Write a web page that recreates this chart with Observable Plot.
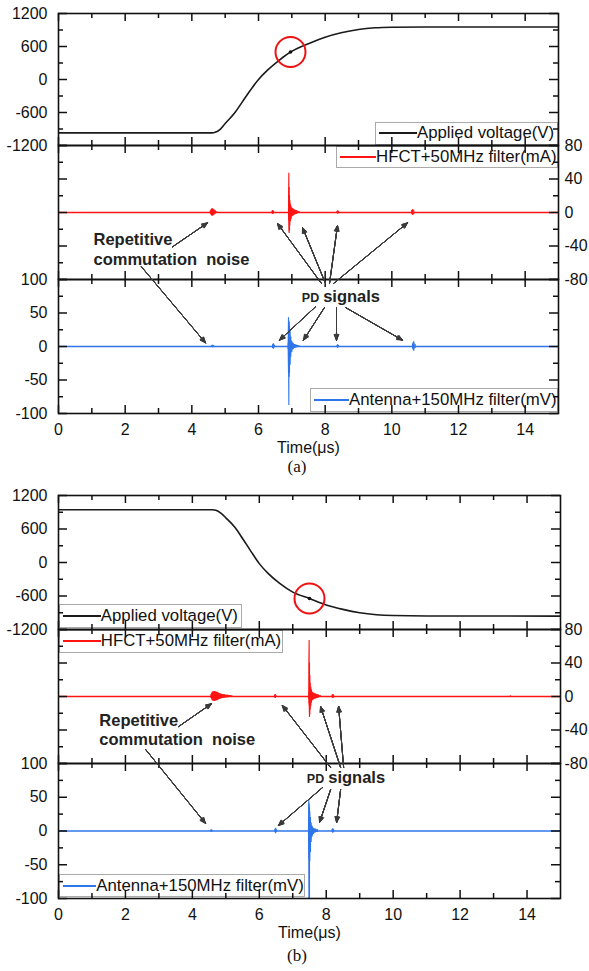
<!DOCTYPE html>
<html><head><meta charset="utf-8">
<script src="https://cdn.jsdelivr.net/npm/d3@7"></script>
<script src="https://cdn.jsdelivr.net/npm/@observablehq/plot@0.6"></script>
<style>
body{margin:0;background:#fff;}
#fig{position:relative;width:589px;height:971px;overflow:hidden;background:#fff;font-family:"Liberation Sans",Arial,sans-serif;color:#111;}
.legend{position:absolute;box-sizing:border-box;background:#fff;border:1px solid #aaa;font-size:16.8px;white-space:nowrap;display:flex;align-items:center;padding-left:3px;}
.legend .sw{display:inline-block;height:2px;}
.cap{position:absolute;font-family:"Liberation Serif","Times New Roman",serif;font-size:17px;transform:translate(-50%,-50%);}
</style></head><body><div id="fig"></div>
<script>
// ---------------- data ----------------
const xMajor = [0, 2, 4, 6, 8, 10, 12, 14];
const xMinor = [1, 3, 5, 7, 9, 11, 13];
const voltMajor = [-1200, -600, 0, 600, 1200];
const voltMinor = [-900, -300, 300, 900];
const hfctMajor = [-80, -40, 0, 40, 80];
const hfctMinor = [-60, -20, 20, 60];
const antMajor = [-100, -50, 0, 50, 100];
const antMinor = [-75, -25, 25, 75];

// (a) applied voltage, rising edge (t µs, V)
const voltA_t = [0, 4.6, 4.7, 4.85, 5.0, 5.27, 5.5, 5.75, 6.0, 6.27, 6.6, 6.96, 7.57, 8.0, 8.48, 9.0, 9.5, 10.0, 11, 15];
const voltA_v = [-970, -970, -960, -905, -800, -620, -420, -200, 0, 170, 340, 500, 670, 770, 850, 910, 940, 950, 955, 955];
// (b) applied voltage, falling edge
const voltB_t = [0, 4.6, 4.7, 4.85, 5.0, 5.27, 5.5, 5.75, 6.0, 6.27, 6.6, 7.0, 7.5, 8.0, 8.5, 9.0, 9.5, 10.0, 11, 15];
const voltB_v = [945, 945, 935, 885, 800, 630, 430, 200, -20, -200, -370, -530, -645, -760, -840, -900, -935, -950, -958, -960];

// PD markers (red circles) on the voltage trace
const circleA = [[6.96, 500]];
const circleB = [[7.5, -645]];

// zero baseline of the pulse traces
const baseline = [[0, 0], [15, 0]];

// bursts: [t µs, upper envelope, lower envelope]
const hfctA = [
  [4.55, 1, -1], [4.58, 3, -3], [4.61, 4.5, -4.5], [4.64, 4, -4], [4.67, 3, -3], [4.70, 2, -2], [4.75, 1, -1],
  [6.41, 1.5, -1.5], [6.43, 2.5, -2.5], [6.45, 1.5, -1.5],
  [6.90, 6, -3], [6.91, 47, -10], [6.92, 30, -25], [6.93, 20, -22], [6.94, 14, -16], [6.96, 10, -11], [6.98, 7, -8],
  [7.01, 5, -5], [7.05, 4, -4], [7.09, 3, -3], [7.14, 2, -2], [7.22, 1.3, -1.3],
  [8.36, 1, -1], [8.38, 2, -2], [8.40, 1, -1],
  [10.60, 2, -2], [10.63, 3.5, -3.5], [10.66, 2, -2]
];
const antA = [
  [4.60, 1.5, -1.5], [4.63, 2, -2], [4.66, 1, -1],
  [6.42, 2, -2], [6.45, 4, -4], [6.48, 2, -2],
  [6.89, 5, -5], [6.90, 43, -40], [6.91, 38, -88], [6.92, 36, -46], [6.93, 30, -40], [6.95, 22, -28], [6.97, 14, -16],
  [7.00, 8, -9], [7.04, 5, -5], [7.09, 3, -3], [7.15, 2, -2], [7.22, 1.3, -1.3],
  [8.36, 1.5, -1.5], [8.38, 2.5, -2.5], [8.40, 1.5, -1.5],
  [10.62, 3, -3], [10.66, 7, -7], [10.70, 3, -3]
];
const hfctB = [
  [4.56, 2, -2], [4.60, 5, -5], [4.66, 6, -6], [4.75, 5, -5], [4.85, 3, -3], [4.95, 2, -2], [5.05, 1.5, -1.5], [5.18, 0.8, -0.8],
  [6.46, 1, -1], [6.48, 2.5, -2.5], [6.50, 1, -1],
  [7.48, 5, -3], [7.49, 67, -10], [7.50, 40, -25], [7.51, 25, -22], [7.52, 16, -16], [7.54, 11, -12], [7.56, 8, -8],
  [7.59, 5, -5], [7.63, 4, -4], [7.68, 3, -3], [7.75, 2, -2], [7.82, 1.2, -1.2],
  [8.18, 1.5, -1.5], [8.20, 2.5, -2.5], [8.22, 1.5, -1.5],
  [13.50, 1, -1]
];
const antB = [
  [4.55, 1, -1], [4.57, 1.5, -1.5], [4.59, 1, -1],
  [6.47, 2, -2], [6.49, 4, -4], [6.52, 2, -2],
  [7.47, 5, -5], [7.48, 45, -40], [7.49, 40, -100], [7.50, 35, -100], [7.51, 28, -45], [7.53, 20, -32], [7.55, 12, -17],
  [7.58, 7, -9], [7.62, 4, -5], [7.67, 3, -3], [7.74, 2, -2],
  [8.18, 2, -2], [8.20, 3.5, -3.5], [8.22, 2, -2]
];

// annotation arrows: [x1 µs, y1, x2 µs, y2] with y in stacked-panel units (0 = bottom of lower panel, 3 = top)
const arrowsA = [
  [3.42, 1.25, 4.47, 1.43], [2.49, 1.10, 4.41, 0.53],
  [7.89, 0.975, 6.57, 1.425], [8.01, 0.975, 7.32, 1.395], [8.13, 0.975, 8.37, 1.41], [8.25, 0.975, 10.47, 1.43],
  [7.71, 0.80, 6.63, 0.55], [7.98, 0.795, 7.35, 0.55], [8.34, 0.795, 8.34, 0.55], [8.61, 0.795, 10.32, 0.55]
];
const arrowsB = [
  [3.59, 1.28, 4.57, 1.45], [2.60, 1.11, 4.39, 0.56],
  [8.13, 0.975, 6.69, 1.437], [8.43, 0.975, 7.83, 1.43], [8.52, 0.975, 8.37, 1.43],
  [7.89, 0.826, 6.57, 0.543], [8.13, 0.81, 7.80, 0.566], [8.43, 0.81, 8.31, 0.566]
];
// annotation labels: [x µs, y units, text]
const labelsA = [[1.05, 1.30, "Repetitive"], [1.05, 1.155, "commutation\u00a0 noise"]];
const labelsB = [[1.22, 1.325, "Repetitive"], [1.22, 1.18, "commutation\u00a0 noise"]];
const pdLabelA = [[7.85, 0.8775]];
const pdLabelB = [[7.97, 0.90]];

// ---------------- drawing ----------------
const FONT = "'Liberation Sans', Arial, sans-serif";
const fig = document.getElementById("fig");
const svgStyle = `background: transparent; overflow: visible; font-family: ${FONT}; font-size: 16px; color: #111;`;
const RED = "#ff1414", BLUE = "#2f76ea", BLACK = "#1a1a1a";
const fmt = d => String(d);

function put(el, top) {
  el.style.position = "absolute"; el.style.left = "0px"; el.style.top = top + "px";
  fig.appendChild(el);
}
const pairs = (ts, vs) => ts.map((t, i) => ({t, v: vs[i]}));
const pts = list => list.map(([t, v]) => ({t, v}));
function bursts(list) {
  let g = 0, prev = -Infinity;
  return list.map(([t, hi, lo]) => { if (t - prev > 0.2) g++; prev = t; return {t, hi, lo, g}; });
}
function pulseMarks(list, color) {
  const rows = bursts(list);
  return [
    Plot.line(pts(baseline), {x: "t", y: "v", stroke: color, strokeWidth: 1.6, clip: true}),
    Plot.areaY(rows, {x: "t", y1: "lo", y2: "hi", z: "g", fill: color, clip: true}),
    Plot.ruleX(rows, {x: "t", y1: "lo", y2: "hi", stroke: color, strokeWidth: 1.1, clip: true})
  ];
}

function panel({top, bottom, right, yDomain, yMajor, yMinor, leftLabels, rightLabels, rightPad = 6, xLabels, marks}) {
  const left = 58, mt = 14, mb = xLabels ? 60 : 14;
  const W = right - left, H = bottom - top;
  const tk = {stroke: "#111", strokeWidth: 1.5};
  const m = [
    ...marks,
    Plot.tickY(yMajor, {...tk, insetRight: W - 9}),
    Plot.tickY(yMinor, {...tk, insetRight: W - 5}),
    Plot.tickY(yMajor, {...tk, insetLeft: W - 9}),
    Plot.tickY(yMinor, {...tk, insetLeft: W - 5}),
    Plot.tickX(xMajor, {...tk, insetBottom: H - 8}),
    Plot.tickX(xMinor, {...tk, insetBottom: H - 5}),
    Plot.tickX(xMajor, {...tk, insetTop: H - 8}),
    Plot.tickX(xMinor, {...tk, insetTop: H - 5}),
    Plot.frame({stroke: "#111", strokeWidth: 1.6})
  ];
  if (leftLabels) m.push(Plot.axisY({anchor: "left", ticks: yMajor, tickSize: 0, tickPadding: 11, label: null, tickFormat: fmt, fontSize: 16}));
  if (rightLabels) m.push(Plot.axisY({anchor: "right", ticks: yMajor, tickSize: 0, tickPadding: rightPad, label: null, tickFormat: fmt, fontSize: 16}));
  if (xLabels) m.push(Plot.axisX({anchor: "bottom", ticks: xMajor, tickSize: 0, tickPadding: 10, tickFormat: fmt, fontSize: 16,
                                   label: "Time(μs)", labelAnchor: "center", labelArrow: "none", labelOffset: 39}));
  const svg = Plot.plot({
    width: 589, height: H + mt + mb,
    marginLeft: left, marginRight: 589 - right, marginTop: mt, marginBottom: mb,
    x: {domain: [0, 15], ...(xLabels ? {} : {axis: null})},
    y: {domain: yDomain, ...((leftLabels || rightLabels) ? {} : {axis: null})},
    style: svgStyle,
    marks: m
  });
  put(svg, top - mt);
}

function legend(x, y, w, h, color, sw, label) {
  const d = document.createElement("div");
  d.className = "legend";
  Object.assign(d.style, {left: x + "px", top: y + "px", width: w + "px", height: h + "px"});
  d.innerHTML = `<span class="sw" style="background:${color};width:${sw}px"></span><span>${label}</span>`;
  fig.appendChild(d);
}

function overlay({top, bottom, right, arrows, labels, pd}) {
  const H = bottom - top;
  const arr = arrows.map(([x1, y1, x2, y2]) => ({x1, y1, x2, y2}));
  const lab = labels.map(([x, y, text]) => ({x, y, text}));
  const pdl = pd.map(([x, y]) => ({x, y}));
  const heads = [8, 16, 24, 32, 40, 48].map(a =>
    Plot.arrow(arr, {x1: "x1", y1: "y1", x2: "x2", y2: "y2", headAngle: a, headLength: 9, stroke: "#3a3a3a", strokeWidth: 1}));
  const svg = Plot.plot({
    width: 589, height: H,
    marginLeft: 58, marginRight: 589 - right, marginTop: 0, marginBottom: 0,
    x: {domain: [0, 15], axis: null},
    y: {domain: [0, 3], axis: null},
    style: svgStyle,
    marks: [
      ...heads,
      Plot.text(lab, {x: "x", y: "y", text: "text", textAnchor: "start", fontWeight: "bold", fontSize: 16.5, fill: "#222"}),
      Plot.text(pdl, {x: "x", y: "y", text: () => "PD", textAnchor: "end", dx: -1, dy: 1, fontWeight: "bold", fontSize: 12.5, fill: "#222"}),
      Plot.text(pdl, {x: "x", y: "y", text: () => "signals", textAnchor: "start", dx: 3, fontWeight: "bold", fontSize: 16.5, fill: "#222"})
    ]
  });
  put(svg, top);
}

function figure({frameTop, mid1, mid2, frameBottom, right, rightPad, volt, circle, hfct, ant, legends, arrows, labels, pd, capY, cap}) {
  // legends first (under frames)
  legends.forEach(l => legend(...l));
  panel({top: frameTop, bottom: mid1, right, yDomain: [-1200, 1200], yMajor: voltMajor, yMinor: voltMinor, leftLabels: true,
    marks: [
      Plot.line(volt, {x: "t", y: "v", stroke: BLACK, strokeWidth: 1.6, curve: "monotone-x", clip: true}),
      Plot.dot(pts(circle), {x: "t", y: "v", r: 15, stroke: "#ee1111", strokeWidth: 2, fill: "none"}),
      Plot.dot(pts(circle), {x: "t", y: "v", r: 1.8, fill: "#111"})
    ]});
  panel({top: mid1, bottom: mid2, right, yDomain: [-80, 80], yMajor: hfctMajor, yMinor: hfctMinor, rightLabels: true, rightPad,
    marks: pulseMarks(hfct, RED)});
  panel({top: mid2, bottom: frameBottom, right, yDomain: [-100, 100], yMajor: antMajor, yMinor: antMinor, leftLabels: true, xLabels: true,
    marks: pulseMarks(ant, BLUE)});
  overlay({top: frameTop, bottom: frameBottom, right, arrows, labels, pd});
  const c = document.createElement("div");
  c.className = "cap"; c.textContent = cap;
  c.style.left = "297px"; c.style.top = capY + "px";
  fig.appendChild(c);
}

figure({
  frameTop: 13, mid1: 145, mid2: 279, frameBottom: 413, right: 558, rightPad: 6,
  volt: pairs(voltA_t, voltA_v), circle: circleA, hfct: hfctA, ant: antA,
  legends: [
    [375, 122, 182.5, 22.5, BLACK, 38, "Applied voltage(V)"],
    [336, 146, 221.5, 22, RED, 38, "HFCT+50MHz filter(mA)"],
    [310, 387.5, 247.5, 24.5, BLUE, 38, "Antenna+150MHz filter(mV)"]
  ],
  arrows: arrowsA, labels: labelsA, pd: pdLabelA, capY: 467, cap: "(a)"
});
figure({
  frameTop: 495, mid1: 629, mid2: 763, frameBottom: 898, right: 560, rightPad: 4,
  volt: pairs(voltB_t, voltB_v), circle: circleB, hfct: hfctB, ant: antB,
  legends: [
    [58.8, 604, 183, 24.2, BLACK, 38, "Applied voltage(V)"],
    [58.8, 629.8, 224, 23, RED, 38, "HFCT+50MHz filter(mA)"],
    [58.8, 874, 246, 23.2, BLUE, 36, "Antenna+150MHz filter(mV)"]
  ],
  arrows: arrowsB, labels: labelsB, pd: pdLabelB, capY: 956, cap: "(b)"
});
</script></body></html>
